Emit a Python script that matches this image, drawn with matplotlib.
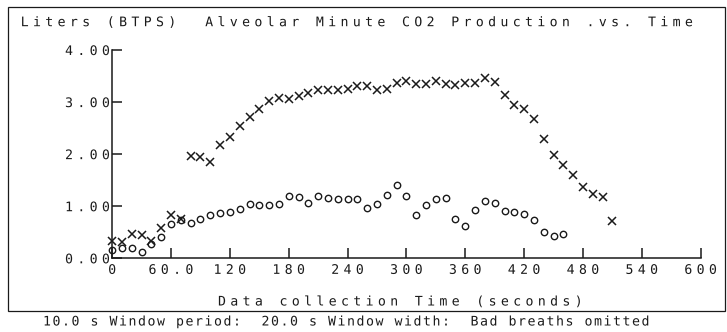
import numpy as np
from matplotlib import pyplot as plt
from matplotlib.patches import Rectangle
from matplotlib.path import Path
from matplotlib.patheffects import AbstractPathEffect

# one value every 10 s window
cross_time = [0, 10, 20, 30, 40, 50, 60, 70, 80, 90, 100, 110, 120, 130, 140,
              150, 160, 170, 180, 190, 200, 210, 220, 230, 240, 250, 260, 270,
              280, 290, 300, 310, 320, 330, 340, 350, 360, 370, 380, 390, 400,
              410, 420, 430, 440, 450, 460, 470, 480, 490, 500, 510]
cross_liters = [0.33, 0.31, 0.47, 0.44, 0.33, 0.59, 0.83, 0.76, 1.96, 1.94,
                1.85, 2.17, 2.33, 2.54, 2.72, 2.86, 3.03, 3.07, 3.06, 3.12,
                3.17, 3.23, 3.23, 3.24, 3.26, 3.31, 3.31, 3.24, 3.26, 3.37,
                3.41, 3.35, 3.35, 3.41, 3.35, 3.33, 3.37, 3.37, 3.46, 3.39,
                3.13, 2.94, 2.87, 2.67, 2.29, 1.99, 1.79, 1.60, 1.37, 1.23,
                1.17, 0.71]

circle_time = [0, 10, 20, 30, 40, 50, 60, 70, 80, 90, 100, 110, 120, 130, 140,
               150, 160, 170, 180, 190, 200, 210, 220, 230, 240, 250, 260, 270,
               280, 290, 300, 310, 320, 330, 340, 350, 360, 370, 380, 390, 400,
               410, 420, 430, 440, 450, 460]
circle_liters = [0.15, 0.19, 0.19, 0.13, 0.27, 0.40, 0.65, 0.73, 0.67, 0.75,
                 0.84, 0.87, 0.88, 0.94, 1.04, 1.03, 1.03, 1.04, 1.19, 1.18,
                 1.07, 1.20, 1.15, 1.13, 1.13, 1.13, 0.97, 1.05, 1.21, 1.40,
                 1.19, 0.83, 1.02, 1.13, 1.15, 0.76, 0.62, 0.92, 1.10, 1.07,
                 0.91, 0.88, 0.85, 0.74, 0.51, 0.43, 0.47]

xticks = [0, 60, 120, 180, 240, 300, 360, 420, 480, 540, 600]
xtick_labels = ['0', '60.0', '120', '180', '240', '300', '360', '420', '480',
                '540', '600']
yticks = [0, 1, 2, 3, 4]
ytick_labels = ['0.00', '1.00', '2.00', '3.00', '4.00']

title = 'Liters (BTPS)  Alveolar Minute CO2 Production .vs. Time'
xlabel = 'Data collection Time (seconds)'
footnote = '10.0 s Window period:  20.0 s Window width:  Bad breaths omitted'

W, H = 727, 332
INK = '#1a1a1a'
FONT = 'DejaVu Sans Mono'
SIZE = 9.5
ADVANCE = 60.2  # cell width of DejaVu Sans Mono in text path units (em = 100)


class Spaced(AbstractPathEffect):
    """Letter spacing for monospace text, like the old plotter lettering."""

    def __init__(self, pitch, anchor=0.0, size=SIZE):
        super().__init__()
        em = size * 100 / 72
        self.extra = pitch / em * 100 - ADVANCE
        self.anchor = anchor

    def draw_path(self, renderer, gc, tpath, affine, rgbFace=None):
        verts = tpath.vertices.copy()
        codes = tpath.codes
        starts = list(np.flatnonzero(codes == Path.MOVETO)) + [len(verts)]
        last = 0
        for a, b in zip(starts[:-1], starts[1:]):
            keep = codes[a:b] != Path.CLOSEPOLY
            cell = np.floor(np.median(verts[a:b][keep, 0]) / ADVANCE)
            verts[a:b, 0] += cell * self.extra
            last = max(last, cell)
        verts[:, 0] -= self.anchor * last * self.extra
        renderer.draw_path(gc, Path(verts, codes), affine, rgbFace)


plt.rcParams['font.family'] = FONT

fig = plt.figure(figsize=(W / 100, H / 100), dpi=100)
ax = fig.add_axes([112.2 / W, (H - 258.3) / H, 588.5 / W, 208.3 / H])

ax.plot(cross_time, cross_liters, 'x', color=INK, markersize=5.5,
        markeredgewidth=1.1, clip_on=False)
ax.plot(circle_time, circle_liters, 'o', color=INK, markersize=4.6,
        markerfacecolor='none', markeredgewidth=1.0, clip_on=False)

ax.set_xlim(0, 600)
ax.set_ylim(0, 4)
ax.set_xticks(xticks)
ax.set_xticklabels(xtick_labels)
ax.set_yticks(yticks)
ax.set_yticklabels(ytick_labels)

for side in ['top', 'right']:
    ax.spines[side].set_visible(False)
for side in ['left', 'bottom']:
    ax.spines[side].set_linewidth(1.1)
    ax.spines[side].set_color(INK)

ax.tick_params(direction='in', length=7.5, width=1.1, color=INK,
               labelsize=SIZE, labelcolor=INK)
ax.tick_params(axis='x', pad=4)
ax.tick_params(axis='y', pad=1.5)

for tick in ax.xaxis.get_major_ticks():
    tick.label1.set_path_effects([Spaced(12.3, 0.5)])
for tick in ax.yaxis.get_major_ticks():
    tick.label1.set_path_effects([Spaced(12.3, 1.0)])

ax.set_xlabel(xlabel, fontsize=SIZE, color=INK, ha='left', va='center',
              path_effects=[Spaced(12.3)])
ax.xaxis.set_label_coords((218 - 112.2) / 588.5, -(302 - 258.3) / 208.3)

fig.text(20.7 / W, (H - 22.7) / H, title, fontsize=SIZE, color=INK,
         ha='left', va='center', path_effects=[Spaced(12.3)])
fig.text(43 / W, (H - 322) / H, footnote, fontsize=SIZE, color=INK,
         ha='left', va='center', path_effects=[Spaced(9.5)])

# border round the plot
fig.patches.append(Rectangle((8 / W, (H - 311) / H), 717 / W, 304 / H,
                             transform=fig.transFigure, fill=False,
                             edgecolor=INK, linewidth=0.9))

fig.savefig('out.png', dpi=100)
